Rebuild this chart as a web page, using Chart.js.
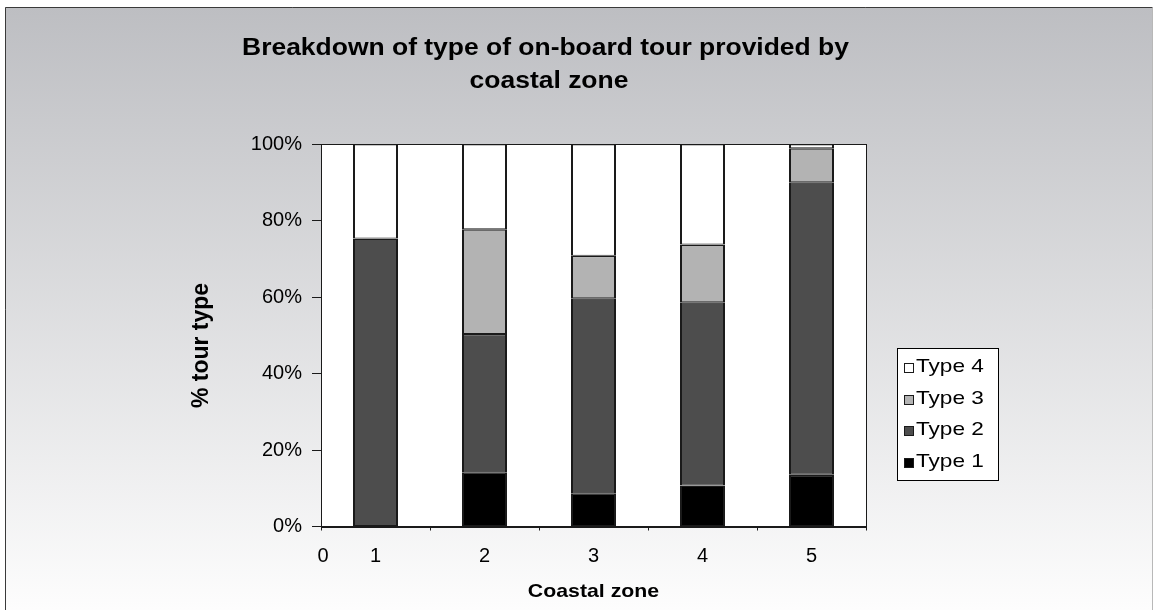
<!DOCTYPE html>
<html>
<head>
<meta charset="utf-8">
<script src="https://cdn.jsdelivr.net/npm/chart.js@4/dist/chart.umd.min.js"></script>
<style>
  html, body { margin: 0; padding: 0; background: #ffffff; overflow: hidden; }
  #wrap { width: 1154px; height: 610px; position: relative; }
  canvas { display: block; }
</style>
</head>
<body>
<div id="wrap"><canvas id="chart" width="1154" height="610"></canvas></div>
<script>
// Share of each on-board tour type per coastal zone (percent)
const zones = ['1', '2', '3', '4', '5'];
const type1 = [0, 14.2, 8.7, 10.7, 13.5];
const type2 = [75.3, 36.1, 51.0, 47.9, 76.5];
const type3 = [0, 27.4, 11.1, 15.1, 8.9];
const type4 = [24.7, 22.3, 29.2, 26.3, 1.1];
const yTicks = [0, 20, 40, 60, 80, 100];
const originLabel = '0';

const titleLines = ['Breakdown of type of on-board tour provided by', 'coastal zone'];
const xTitle = 'Coastal zone';
const yTitle = '% tour type';
const seriesNames = ['Type 1', 'Type 2', 'Type 3', 'Type 4'];
const seriesColors = ['#000000', '#4d4d4d', '#b3b3b3', '#ffffff'];

const FONT = "'Liberation Sans', Arial, Helvetica, sans-serif";
const EDGE = '#1a1a1a';

// Draws horizontally widened text centred (or left-aligned) at x
function wideText(ctx, text, x, y, font, sx, align) {
  ctx.save();
  ctx.font = font;
  ctx.textBaseline = 'alphabetic';
  ctx.textAlign = 'left';
  const w = ctx.measureText(text).width * sx;
  const left = align === 'left' ? x : x - w / 2;
  ctx.translate(left, y);
  ctx.scale(sx, 1);
  ctx.fillText(text, 0, 0);
  ctx.restore();
}

const frame = {
  id: 'frame',
  beforeDraw(chart) {
    const ctx = chart.ctx;
    const W = chart.width, H = chart.height;
    const a = chart.chartArea;
    ctx.save();
    ctx.fillStyle = '#ffffff';
    ctx.fillRect(0, 0, W, H);
    const g = ctx.createLinearGradient(0, 7, 0, H);
    g.addColorStop(0, '#bdbec2');
    g.addColorStop(1, '#fdfdfd');
    ctx.fillStyle = g;
    ctx.fillRect(5, 7, W - 6, H - 7);
    ctx.strokeStyle = '#3a3a3a';
    ctx.lineWidth = 1;
    ctx.beginPath();
    ctx.moveTo(5.5, H + 2);
    ctx.lineTo(5.5, 7.5);
    ctx.lineTo(W - 1.5, 7.5);
    ctx.stroke();
    ctx.strokeStyle = '#b8b8b8';
    ctx.beginPath();
    ctx.moveTo(W - 1.5, 7.5);
    ctx.lineTo(W - 1.5, H + 2);
    ctx.stroke();
    ctx.fillStyle = '#ffffff';
    ctx.fillRect(a.left, a.top, a.right - a.left, a.bottom - a.top);
    ctx.restore();
  },
  afterDraw(chart) {
    const ctx = chart.ctx;
    const a = chart.chartArea;
    ctx.save();
    // plot frame
    ctx.strokeStyle = EDGE;
    ctx.lineWidth = 1;
    ctx.strokeRect(Math.round(a.left) + 0.5, Math.round(a.top) + 0.5,
      Math.round(a.right - a.left), Math.round(a.bottom - a.top));

    ctx.fillStyle = '#000000';
    // title
    wideText(ctx, titleLines[0], 545.5, 55, 'bold 23px ' + FONT, 1.15);
    wideText(ctx, titleLines[1], 549, 88, 'bold 23px ' + FONT, 1.15);
    // x axis title
    wideText(ctx, xTitle, (a.left + a.right) / 2, 596.5, 'bold 19px ' + FONT, 1.12);
    // y axis title
    ctx.save();
    ctx.translate(208, 345.5);
    ctx.rotate(-Math.PI / 2);
    ctx.font = 'bold 23px ' + FONT;
    ctx.textAlign = 'center';
    ctx.textBaseline = 'alphabetic';
    ctx.fillText(yTitle, 0, 0);
    ctx.restore();

    // origin label under the left end of the category axis
    const xs = chart.scales.x;
    let items = xs._labelItems;
    if (!items && xs.getLabelItems) items = xs.getLabelItems();
    if (items && items.length) {
      const it = items[0];
      ctx.save();
      ctx.font = it.font.string;
      ctx.textAlign = 'center';
      ctx.textBaseline = it.options.textBaseline;
      ctx.fillStyle = '#000000';
      ctx.fillText(originLabel, a.left + 2, it.options.translation[1] + (it.textOffset || 0));
      ctx.restore();
    }

    // legend box, series listed top to bottom in reverse order
    const lx = 897, ly = 348, lw = 101, lh = 132;
    ctx.fillStyle = '#ffffff';
    ctx.fillRect(lx, ly, lw, lh);
    ctx.strokeStyle = '#000000';
    ctx.strokeRect(lx + 0.5, ly + 0.5, lw, lh);
    const ds = chart.data.datasets;
    const order = ds.map((d, i) => i).reverse();
    order.forEach((idx, row) => {
      const base = 372 + row * 31.6;
      const top = Math.round(base) - 9;
      ctx.fillStyle = EDGE;
      ctx.fillRect(904, top, 10, 10);
      ctx.fillStyle = ds[idx].backgroundColor;
      ctx.fillRect(905, top + 1, 8, 8);
      ctx.fillStyle = '#000000';
      wideText(ctx, ds[idx].label, 916, base, '19px ' + FONT, 1.19, 'left');
    });
    ctx.restore();
  }
};

const seriesData = [type1, type2, type3, type4];

new Chart(document.getElementById('chart'), {
  type: 'bar',
  data: {
    labels: zones,
    datasets: seriesData.map((vals, i) => ({
      label: seriesNames[i],
      data: vals,
      backgroundColor: seriesColors[i],
      borderColor: EDGE,
      borderWidth: { left: 2, right: 2, top: 1.5, bottom: 1 },
      borderSkipped: false,
      barPercentage: 45 / 109,
      categoryPercentage: 1
    }))
  },
  options: {
    responsive: false,
    devicePixelRatio: 1,
    animation: false,
    layout: { padding: { left: 0, top: 144, right: 288, bottom: 0 } },
    plugins: {
      legend: { display: false },
      title: { display: false },
      tooltip: { enabled: false }
    },
    scales: {
      x: {
        stacked: true,
        offset: true,
        grid: { display: true, offset: true, drawOnChartArea: false, drawTicks: true, tickLength: 4, color: EDGE, lineWidth: 1 },
        border: { display: true, color: EDGE, width: 1 },
        ticks: { color: '#000000', font: { family: FONT, size: 20 }, padding: 14, maxRotation: 0, autoSkip: false },
        afterFit: s => { s.height = 83.5; }
      },
      y: {
        stacked: true,
        min: 0,
        max: 100,
        afterBuildTicks: s => { s.ticks = yTicks.map(v => ({ value: v })); },
        grid: { display: true, drawOnChartArea: false, drawTicks: true, tickLength: 9, color: EDGE, lineWidth: 1 },
        border: { display: true, color: EDGE, width: 1 },
        ticks: { color: '#000000', font: { family: FONT, size: 20 }, padding: 10, callback: v => v + '%' },
        afterFit: s => { s.width = 321; }
      }
    }
  },
  plugins: [frame]
});
</script>
</body>
</html>
